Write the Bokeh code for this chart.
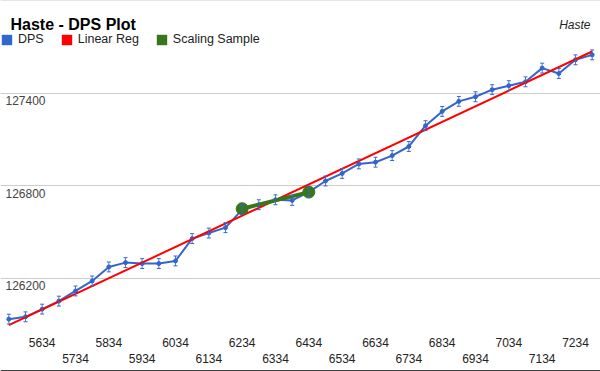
from bokeh.plotting import figure
from bokeh.models import (ColumnDataSource, Range1d, Grid, FixedTicker, Span, Label,
                          Legend, LegendItem, Whisker, TeeHead)
from bokeh.core.properties import value
from bokeh.embed import file_html
from bokeh.resources import INLINE

# ---- data ----
haste = [5534, 5584, 5634, 5684, 5734, 5784, 5834, 5884, 5934, 5984,
         6034, 6084, 6134, 6184, 6234, 6284, 6334, 6384, 6434, 6484,
         6534, 6584, 6634, 6684, 6734, 6784, 6834, 6884, 6934, 6984,
         7034, 7084, 7134, 7184, 7234, 7284]
dps = [125934, 125949, 125999, 126051, 126117, 126182, 126273, 126301, 126295, 126295,
       126312, 126457, 126493, 126528, 126645, 126677, 126709, 126705, 126759, 126831,
       126880, 126942, 126953, 126996, 127055, 127190, 127283, 127348, 127378, 127424,
       127450, 127475, 127564, 127529, 127618, 127650]
dps_err = [32, 32, 32, 32, 32, 32, 32, 32, 32, 32,
           32, 32, 32, 32, 32, 32, 32, 32, 32, 32,
           32, 32, 32, 32, 32, 32, 32, 32, 32, 32,
           32, 32, 32, 32, 32, 32]
linreg_x = [5534, 7284]
linreg_y = [125895, 127672]
sample_x = [6234, 6434]
sample_y = [126651, 126759]

x_ticks = [5634, 5734, 5834, 5934, 6034, 6134, 6234, 6334, 6434, 6534,
           6634, 6734, 6834, 6934, 7034, 7134, 7234]
y_labels = [126200, 126800, 127400]
y_grid = [126200, 126800, 127400, 128000]
baseline = 125600
x_view = (5509, 7309)
y_view = (125594, 128003)

FONT = "Liberation Sans"
W, H = 600, 371
NAN = float("nan")

p = figure(width=W, height=H, output_backend="svg", toolbar_location=None,
           x_range=Range1d(*x_view), y_range=Range1d(*y_view),
           x_axis_location=None, y_axis_location=None, min_border=0)
p.outline_line_color = None
p.background_fill_color = "white"
p.grid.visible = False

grid = Grid(dimension=1, ticker=FixedTicker(ticks=y_grid), grid_line_color="#cccccc",
            grid_line_width=1)
p.add_layout(grid, "center")
p.add_layout(Span(location=baseline, dimension="width", line_color="#333333", line_width=1))

# DPS series
src = ColumnDataSource(dict(x=haste, y=dps,
                            upper=[v + e for v, e in zip(dps, dps_err)],
                            lower=[v - e for v, e in zip(dps, dps_err)]))
p.line("x", "y", source=src, line_color="#3366cc", line_width=2)
p.add_layout(Whisker(base="x", upper="upper", lower="lower", source=src,
                     line_color="#3366cc", line_alpha=0.85, line_width=1, level="glyph",
                     upper_head=TeeHead(size=4, line_color="#3366cc", line_width=1),
                     lower_head=TeeHead(size=4, line_color="#3366cc", line_width=1)))
p.scatter("x", "y", source=src, size=4, fill_color="#3366cc", line_color="#3366cc")

# Linear regression
p.line(linreg_x, linreg_y, line_color="#ff0000", line_width=2)

# Scaling sample
p.line(sample_x, sample_y, line_color="#38761d", line_width=4)
p.scatter(sample_x, sample_y, size=12, fill_color="#38761d", line_color="#38761d")

# tick labels (inside)
p.text(x=x_ticks[0::2], y=[baseline] * len(x_ticks[0::2]),
       text=[str(t) for t in x_ticks[0::2]], text_align="center", text_baseline="middle",
       y_offset=-28, text_font=value(FONT), text_font_size=value("12px"), text_color="#222222")
p.text(x=x_ticks[1::2], y=[baseline] * len(x_ticks[1::2]),
       text=[str(t) for t in x_ticks[1::2]], text_align="center", text_baseline="middle",
       y_offset=-12, text_font=value(FONT), text_font_size=value("12px"), text_color="#222222")
p.text(x=[x_view[0]] * len(y_labels), y=y_labels, text=[str(t) for t in y_labels],
       text_align="left", text_baseline="top", x_offset=5, y_offset=3,
       text_font=value(FONT), text_font_size=value("12px"), text_color="#444444")

# title and axis title
p.add_layout(Label(x=10, y=H - 24, x_units="screen", y_units="screen",
                   text="Haste - DPS Plot", text_font=FONT, text_font_size="16px",
                   text_font_style="bold", text_color="#000000", text_baseline="alphabetic"))
p.add_layout(Label(x=W - 10, y=H - 24, x_units="screen", y_units="screen",
                   text="Haste", text_font=FONT, text_font_size="12px",
                   text_font_style="italic", text_color="#222222", text_align="right",
                   text_baseline="alphabetic"))

# legend swatches (no visible data)
sw1 = p.quad(left=[NAN], right=[NAN], top=[NAN], bottom=[NAN], fill_color="#3366cc", line_color=None)
sw2 = p.quad(left=[NAN], right=[NAN], top=[NAN], bottom=[NAN], fill_color="#ff0000", line_color=None)
sw3 = p.quad(left=[NAN], right=[NAN], top=[NAN], bottom=[NAN], fill_color="#38761d", line_color=None)
legend = Legend(items=[LegendItem(label="DPS", renderers=[sw1]),
                       LegendItem(label="Linear Reg", renderers=[sw2]),
                       LegendItem(label="Scaling Sample", renderers=[sw3])],
                orientation="horizontal", location=(0, H - 46),
                glyph_width=13, glyph_height=13, label_standoff=5, spacing=16,
                padding=0, margin=0, border_line_alpha=0, background_fill_alpha=0,
                label_text_font=FONT, label_text_font_size="12.5px",
                label_text_color="#222222", label_height=13, label_text_baseline="middle")
p.add_layout(legend, "center")

open("out.html", "w").write(file_html(p, INLINE))
